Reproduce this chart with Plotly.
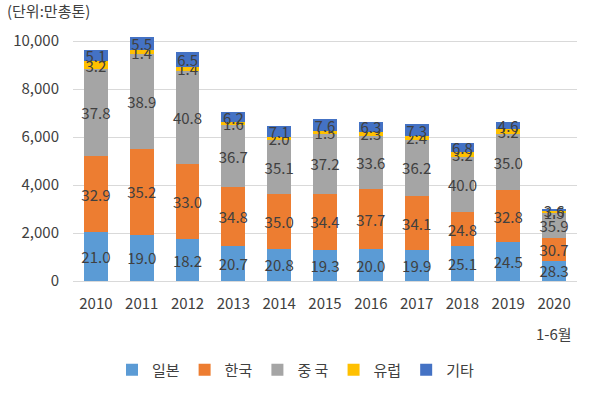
import plotly.graph_objects as go

years = ["2010", "2011", "2012", "2013", "2014", "2015", "2016", "2017", "2018", "2019", "2020"]
totals = [9650, 10180, 9540, 7050, 6470, 6750, 6640, 6540, 5760, 6620, 3010]  # 만총톤

japan = [21.0, 19.0, 18.2, 20.7, 20.8, 19.3, 20.0, 19.9, 25.1, 24.5, 28.3]
korea = [32.9, 35.2, 33.0, 34.8, 35.0, 34.4, 37.7, 34.1, 24.8, 32.8, 30.7]
china = [37.8, 38.9, 40.8, 36.7, 35.1, 37.2, 33.6, 36.2, 40.0, 35.0, 35.9]
europe = [3.2, 1.4, 1.4, 1.6, 2.0, 1.5, 2.3, 2.4, 3.2, 3.2, 1.5]
others = [5.1, 5.5, 6.5, 6.2, 7.1, 7.6, 6.3, 7.3, 6.8, 4.6, 3.6]

names = ["일본", "한국", "중 국", "유럽", "기타"]
colors = ["#5B9BD5", "#ED7D31", "#A5A5A5", "#FFC000", "#4472C4"]
shares = [japan, korea, china, europe, others]

FONT = "Noto Sans CJK KR"
TXT = "#404040"

fig = go.Figure()
for name, color, sh in zip(names, colors, shares):
    fig.add_trace(go.Bar(
        x=years,
        y=[t * s / 100 for t, s in zip(totals, sh)],
        name=name,
        marker=dict(color=color, line=dict(width=0)),
        text=[f"{s:.1f}" for s in sh],
        textposition="inside",
        insidetextanchor="middle",
        textangle=0,
        insidetextfont=dict(family=FONT, size=15, color=TXT),
    ))

fig.update_layout(
    barmode="stack",
    bargap=0.48,
    width=591, height=393,
    margin=dict(l=73, r=14, t=34, b=112),
    paper_bgcolor="white", plot_bgcolor="white",
    font=dict(family=FONT, size=15, color=TXT),
    uniformtext=dict(minsize=15, mode="show"),
    title=dict(text="(단위:만총톤)", x=7 / 591, xanchor="left", xref="container",
               y=1 - 12 / 393, yanchor="middle", yref="container",
               font=dict(family=FONT, size=15, color=TXT)),
    legend=dict(orientation="h", x=0.5, xanchor="center", xref="container",
                y=1 - 370 / 393, yanchor="middle", yref="container",
                font=dict(family=FONT, size=15, color=TXT),
                traceorder="normal", itemwidth=30),
    showlegend=True,
)
fig.update_yaxes(range=[0, 10300], tickvals=[0, 2000, 4000, 6000, 8000, 10000],
                 tickformat=",", showgrid=True, gridcolor="#D9D9D9", gridwidth=1,
                 zeroline=False, showline=False, ticks="outside", ticklen=10, tickcolor="white",
                 automargin=False,
                 tickfont=dict(family=FONT, size=15, color=TXT))
fig.update_xaxes(type="category", showline=True, linecolor="#D9D9D9", linewidth=1,
                 ticks="outside", ticklen=9, tickcolor="white", automargin=False,
                 tickfont=dict(family=FONT, size=15, color=TXT))
fig.add_annotation(x=10, y=-52 / 247, xref="x", yref="paper", text="1-6월",
                   showarrow=False, yanchor="middle",
                   font=dict(family=FONT, size=15, color=TXT))

fig.write_html("out.html", config={"displayModeBar": False},
               post_script="document.body.style.margin='0';")
